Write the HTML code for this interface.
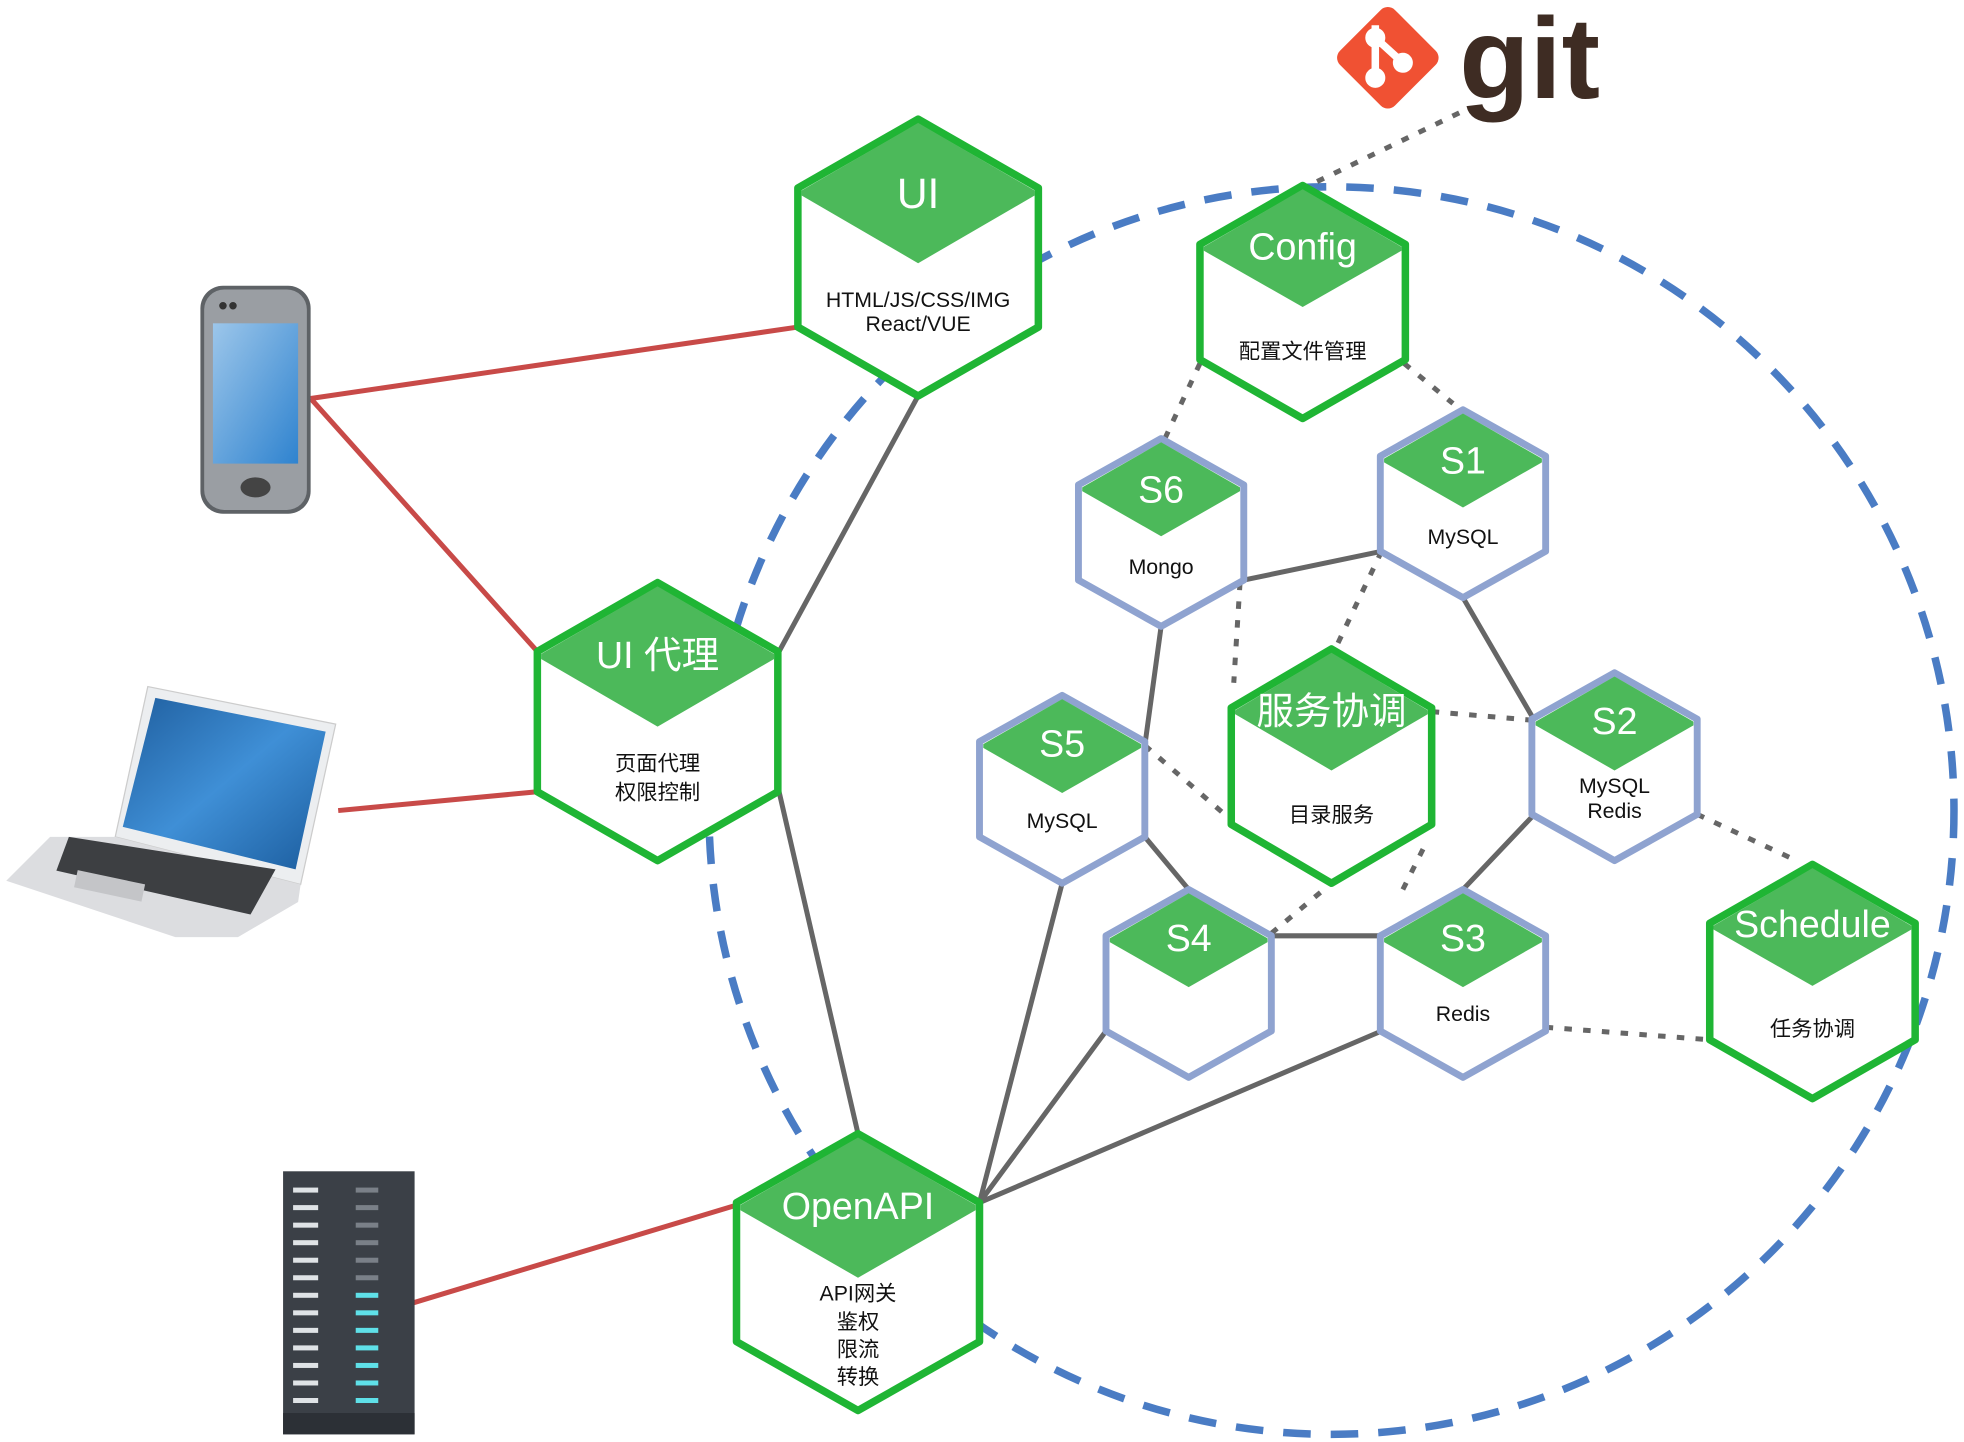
<!DOCTYPE html>
<html><head><meta charset="utf-8"><style>
html,body{margin:0;padding:0;background:#fff}
svg{display:block}
text{font-family:"Liberation Sans","Noto Sans CJK SC",sans-serif}
.t{fill:#fff;font-size:34px;text-anchor:middle}
.ts{fill:#fff;font-size:30px;text-anchor:middle}
.s{fill:#111;font-size:17px;text-anchor:middle}
.g{fill:#fff;stroke:#1fb534;stroke-width:6;stroke-linejoin:round}
.b{fill:#fff;stroke:#8fa3d0;stroke-width:5.5;stroke-linejoin:round}
.cap{fill:#4cb95a}
.dl{stroke:#666;stroke-width:4;stroke-dasharray:6 9;fill:none}
.sl{stroke:#666;stroke-width:4;fill:none}
.rl{stroke:#c84a48;stroke-width:4;fill:none}
</style></head><body>
<svg width="1964" height="1442" viewBox="0 0 1568 1151" xmlns="http://www.w3.org/2000/svg">
<!-- big dashed circle -->
<ellipse cx="1063" cy="647" rx="497" ry="498" fill="none" stroke="#4a7cc4" stroke-width="6" stroke-dasharray="22 16"/>

<!-- dotted lines -->
<path class="dl" d="M1165 90 L1045 148 M958 290 L930 350 M1121 290 L1160 322 M1103 440 L1065 520 M990 465 L985 545 M1143 568 L1225 575 M914 595 L980 652 M1015 745 L1063 705 M1120 710 L1140 670 M1355 650 L1430 685 M1234 820 L1365 830"/>

<!-- solid grey lines -->
<path class="sl" d="M733 316 L622 520 M622 632 L685 905 M993 463 L1103 440 M1168 477 L1225 575 M1225 650 L1168 710 M1103 747 L1015 747 M914 668 L949 710 M927 500 L914 595 M782 960 L848 705 M782 960 L883 823 M782 960 L1103 823"/>

<!-- red lines -->
<path class="rl" d="M248 318 L637 261 M248 318 L429 520 M270 647 L429 632 M330 1040 L588 962"/>

<!-- git logo -->
<g transform="translate(1108,46) rotate(45)">
<rect x="-31" y="-31" width="62" height="62" rx="8" fill="#f05133"/>
</g>
<g stroke="#fff" stroke-width="6" fill="#fff">
<line x1="1098" y1="20" x2="1098" y2="66"/>
<line x1="1098" y1="30" x2="1120" y2="50"/>
<circle cx="1098" cy="62" r="5"/><circle cx="1098" cy="30" r="5"/><circle cx="1120" cy="50" r="5"/>
</g>
<text x="1165" y="78" font-size="92" font-weight="bold" fill="#3e2c23" font-family="Liberation Sans,sans-serif">git</text>

<!-- UI -->
<polygon class="g" points="733,95 829,150 829,261 733,316 637,261 637,150"/>
<polygon class="cap" points="733,98 826,152 826,156 733,210 640,156 640,152"/>
<text class="t" x="733" y="166">UI</text>
<text class="s" x="733" y="245">HTML/JS/CSS/IMG</text>
<text class="s" x="733" y="264">React/VUE</text>

<!-- UI代理 -->
<polygon class="g" points="525,465 621,520 621,632 525,687 429,632 429,520"/>
<polygon class="cap" points="525,468 618,522 618,526 525,580 432,526 432,522"/>
<text class="ts" x="525" y="533">UI 代理</text>
<text class="s" x="525" y="615">页面代理</text>
<text class="s" x="525" y="638">权限控制</text>

<!-- OpenAPI -->
<polygon class="g" points="685,905 782,960 782,1071 685,1126 588,1071 588,960"/>
<polygon class="cap" points="685,908 779,962 779,966 685,1020 591,966 591,962"/>
<text class="ts" x="685" y="973">OpenAPI</text>
<text class="s" x="685" y="1038">API网关</text>
<text class="s" x="685" y="1061">鉴权</text>
<text class="s" x="685" y="1083">限流</text>
<text class="s" x="685" y="1105">转换</text>

<!-- Config -->
<polygon class="g" points="1040,148 1122,195 1122,287 1040,334 958,287 958,195"/>
<polygon class="cap" points="1040,151 1119,197 1119,200 1040,245 961,200 961,197"/>
<text class="ts" x="1040" y="207">Config</text>
<text class="s" x="1040" y="286">配置文件管理</text>

<!-- 服务协调 -->
<polygon class="g" points="1063,518 1143,565 1143,658 1063,705 983,658 983,565"/>
<polygon class="cap" points="1063,521 1140,567 1140,570 1063,615 986,570 986,567"/>
<text class="ts" x="1063" y="578">服务协调</text>
<text class="s" x="1063" y="656">目录服务</text>

<!-- Schedule -->
<polygon class="g" points="1447,690 1529,737 1529,830 1447,877 1365,830 1365,737"/>
<polygon class="cap" points="1447,693 1526,739 1526,742 1447,787 1368,742 1368,739"/>
<text class="ts" x="1447" y="748">Schedule</text>
<text class="s" x="1447" y="827">任务协调</text>

<!-- S6 -->
<polygon class="b" points="927,350 993,387 993,463 927,500 861,463 861,387"/>
<polygon class="cap" points="927,353 990,389 990,392 927,428 864,392 864,389"/>
<text class="ts" x="927" y="401">S6</text>
<text class="s" x="927" y="458">Mongo</text>

<!-- S1 -->
<polygon class="b" points="1168,327 1234,364 1234,440 1168,477 1102,440 1102,364"/>
<polygon class="cap" points="1168,330 1231,366 1231,369 1168,405 1105,369 1105,366"/>
<text class="ts" x="1168" y="378">S1</text>
<text class="s" x="1168" y="434">MySQL</text>

<!-- S2 -->
<polygon class="b" points="1289,537 1355,574 1355,650 1289,687 1223,650 1223,574"/>
<polygon class="cap" points="1289,540 1352,576 1352,579 1289,615 1226,579 1226,576"/>
<text class="ts" x="1289" y="586">S2</text>
<text class="s" x="1289" y="633">MySQL</text>
<text class="s" x="1289" y="653">Redis</text>

<!-- S5 -->
<polygon class="b" points="848,555 914,592 914,668 848,705 782,668 782,592"/>
<polygon class="cap" points="848,558 911,594 911,597 848,633 785,597 785,594"/>
<text class="ts" x="848" y="604">S5</text>
<text class="s" x="848" y="661">MySQL</text>

<!-- S4 -->
<polygon class="b" points="949,710 1015,747 1015,823 949,860 883,823 883,747"/>
<polygon class="cap" points="949,713 1012,749 1012,752 949,788 886,752 886,749"/>
<text class="ts" x="949" y="759">S4</text>

<!-- S3 -->
<polygon class="b" points="1168,710 1234,747 1234,823 1168,860 1102,823 1102,747"/>
<polygon class="cap" points="1168,713 1231,749 1231,752 1168,788 1105,752 1105,749"/>
<text class="ts" x="1168" y="759">S3</text>
<text class="s" x="1168" y="815">Redis</text>

<!-- phone -->
<defs>
<linearGradient id="scr" x1="0" y1="0" x2="1" y2="1"><stop offset="0" stop-color="#9cc6ea"/><stop offset="1" stop-color="#2f83cf"/></linearGradient>
<linearGradient id="lscr" x1="0" y1="0" x2="1" y2="1"><stop offset="0" stop-color="#1f5e9e"/><stop offset="0.5" stop-color="#3f8fd6"/><stop offset="1" stop-color="#1b5c9d"/></linearGradient>
</defs>
<rect x="160" y="228" width="88" height="182" rx="18" fill="#5e6266"/>
<rect x="163" y="231" width="82" height="176" rx="16" fill="#9a9ea3"/>
<rect x="170" y="258" width="68" height="112" fill="url(#scr)"/>
<circle cx="178" cy="244" r="3" fill="#333"/><circle cx="186" cy="244" r="3" fill="#333"/>
<ellipse cx="204" cy="389" rx="12" ry="8" fill="#444"/>
<!-- laptop -->
<polygon points="118,548 268,578 240,706 92,668" fill="#eceef0" stroke="#ccc"/>
<polygon points="124,557 260,584 236,694 98,660" fill="url(#lscr)"/>
<polygon points="92,668 240,706 238,720 190,748 140,748 5,703 40,668" fill="#dcdde0"/>
<polygon points="55,668 220,694 200,730 45,695" fill="#3d3f42"/>
<rect x="60" y="700" width="55" height="14" fill="#c4c5c8" transform="rotate(12 87 707)"/>
<!-- server -->
<rect x="226" y="935" width="105" height="210" fill="#3b4047"/>
<g fill="#dfe3e6">
<rect x="234" y="948" width="20" height="4"/><rect x="234" y="962" width="20" height="4"/><rect x="234" y="976" width="20" height="4"/><rect x="234" y="990" width="20" height="4"/><rect x="234" y="1004" width="20" height="4"/><rect x="234" y="1018" width="20" height="4"/><rect x="234" y="1032" width="20" height="4"/><rect x="234" y="1046" width="20" height="4"/><rect x="234" y="1060" width="20" height="4"/><rect x="234" y="1074" width="20" height="4"/><rect x="234" y="1088" width="20" height="4"/><rect x="234" y="1102" width="20" height="4"/><rect x="234" y="1116" width="20" height="4"/>
</g>
<g fill="#7a8088">
<rect x="284" y="948" width="18" height="4"/><rect x="284" y="962" width="18" height="4"/><rect x="284" y="976" width="18" height="4"/><rect x="284" y="990" width="18" height="4"/><rect x="284" y="1004" width="18" height="4"/><rect x="284" y="1018" width="18" height="4"/>
</g>
<g fill="#5fe0e8">
<rect x="284" y="1032" width="18" height="4"/><rect x="284" y="1046" width="18" height="4"/><rect x="284" y="1060" width="18" height="4"/><rect x="284" y="1074" width="18" height="4"/><rect x="284" y="1088" width="18" height="4"/><rect x="284" y="1102" width="18" height="4"/><rect x="284" y="1116" width="18" height="4"/>
</g>
<rect x="226" y="1128" width="105" height="17" fill="#2c3036"/>
</svg>
</body></html>
